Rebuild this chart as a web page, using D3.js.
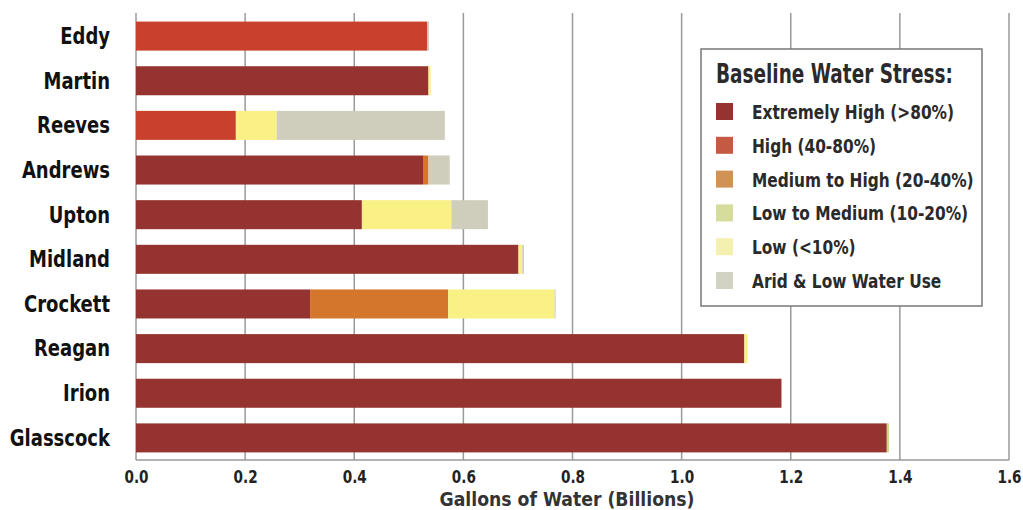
<!DOCTYPE html>
<html><head><meta charset="utf-8">
<script src="https://cdn.jsdelivr.net/npm/d3@7"></script>
<style>
body{margin:0;background:#fff;}
text{font-family:"DejaVu Sans Condensed","Liberation Sans Narrow",sans-serif;font-weight:bold;}
</style></head><body>
<svg id="chart" width="1023" height="510"></svg>
<script>
const counties = ["Eddy","Martin","Reeves","Andrews","Upton","Midland","Crockett","Reagan","Irion","Glasscock"];
const seriesNames = ["Extremely High (>80%)","High (40-80%)","Medium to High (20-40%)","Low to Medium (10-20%)","Low (<10%)","Arid & Low Water Use"];
const extremelyHigh = [0,     0.536, 0,     0.526, 0.414, 0.701, 0.319, 1.115, 1.183, 1.376];
const high          = [0.534, 0,     0.183, 0,     0,     0,     0,     0,     0,     0];
const mediumHigh    = [0,     0,     0,     0.010, 0,     0,     0.253, 0,     0,     0];
const lowMedium     = [0,     0,     0,     0,     0,     0,     0,     0,     0,     0.004];
const low           = [0,     0.004, 0.075, 0,     0.164, 0.007, 0.195, 0.006, 0,     0];
const arid          = [0.003, 0,     0.308, 0.039, 0.067, 0.003, 0.002, 0,     0,     0];
const xTicks = [0,0.2,0.4,0.6,0.8,1.0,1.2,1.4,1.6];
const barColors = ["#943330","#c9412c","#d4762b","#cdd58c","#f9f086","#cfcdbc"];
const legendColors = ["#943330","#c55a44","#d19355","#d5dc9c","#f3f0b0","#d3d3c3"];

const keys = ["eh","h","mh","lm","l","a"];
const table = counties.map((c,i)=>({county:c, eh:extremelyHigh[i], h:high[i], mh:mediumHigh[i], lm:lowMedium[i], l:low[i], a:arid[i]}));

// horizontally condense text (narrow display font look) via transform
function squeeze(sel, f){
  sel.each(function(){
    const t = d3.select(this);
    const tx = +t.attr("x") || 0, ty = +t.attr("y") || 0;
    t.attr("x",0).attr("y",0).attr("transform",`translate(${tx},${ty}) scale(${f},1)`);
  });
}

const svg = d3.select("#chart");
const x = d3.scaleLinear().domain([0,1.6]).range([136,1009]);
const y = d3.scaleBand().domain(counties).range([14,460]).paddingInner(0.35).paddingOuter(0.17);
const color = d3.scaleOrdinal().domain(keys).range(barColors);

// grid
svg.append("g").selectAll("line").data(xTicks).join("line")
  .attr("x1",d=>x(d)).attr("x2",d=>x(d)).attr("y1",13).attr("y2",460)
  .attr("stroke","#9a9a9a").attr("stroke-width",1.5);
svg.append("line").attr("x1",x(0)).attr("x2",x(1.6)).attr("y1",460).attr("y2",460)
  .attr("stroke","#9a9a9a").attr("stroke-width",1.5);

// bars
const stack = d3.stack().keys(keys)(table);
svg.append("g").selectAll("g").data(stack).join("g")
  .attr("fill",d=>color(d.key))
  .selectAll("rect").data(d=>d).join("rect")
  .attr("x",d=>x(d[0])).attr("width",d=>Math.max(0,x(d[1])-x(d[0])))
  .attr("y",d=>y(d.data.county)).attr("height",y.bandwidth());

// x axis labels
const xAxis = d3.axisBottom(x).tickValues(xTicks).tickFormat(d3.format(".1f")).tickSize(0).tickPadding(10);
const gx = svg.append("g").attr("transform","translate(0,460)").call(xAxis);
gx.select(".domain").remove();
gx.selectAll("text").attr("font-size",18).attr("fill","#222")
  .style("font-family","'DejaVu Sans Condensed',sans-serif").style("font-weight","bold");
squeeze(gx.selectAll("text"), 0.84);

// y axis labels
const yAxis = d3.axisLeft(y).tickSize(0).tickPadding(26);
const gy = svg.append("g").attr("transform","translate(136,0)").call(yAxis);
gy.select(".domain").remove();
gy.selectAll("text").attr("font-size",23).attr("fill","#111").attr("dy","0.34em")
  .style("font-family","'DejaVu Sans Condensed',sans-serif").style("font-weight","bold");
squeeze(gy.selectAll("text"), 0.87);

// axis title
const at = svg.append("text").attr("x",567).attr("y",506).attr("text-anchor","middle")
  .attr("font-size",20).attr("fill","#333").text("Gallons of Water (Billions)");
squeeze(at, 0.96);

// legend
const lg = svg.append("g");
lg.append("rect").attr("x",701).attr("y",49).attr("width",281).attr("height",257)
  .attr("fill","#fff").attr("stroke","#777").attr("stroke-width",1.5);
const lt = lg.append("text").attr("x",716).attr("y",83).attr("font-size",27).attr("fill","#2a2a2a").text("Baseline Water Stress:");
squeeze(lt, 0.76);
const items = lg.selectAll("g.item").data(seriesNames).join("g").attr("class","item")
  .attr("transform",(d,i)=>`translate(716,${111.5+i*33.8})`);
items.append("rect").attr("x",0).attr("y",-8.5).attr("width",17).attr("height",17)
  .attr("fill",(d,i)=>legendColors[i]);
const itx = items.append("text").attr("x",36).attr("y",7.5).attr("font-size",19).attr("fill","#2a2a2a").text(d=>d);
squeeze(itx, 0.9);
</script>
</body></html>
